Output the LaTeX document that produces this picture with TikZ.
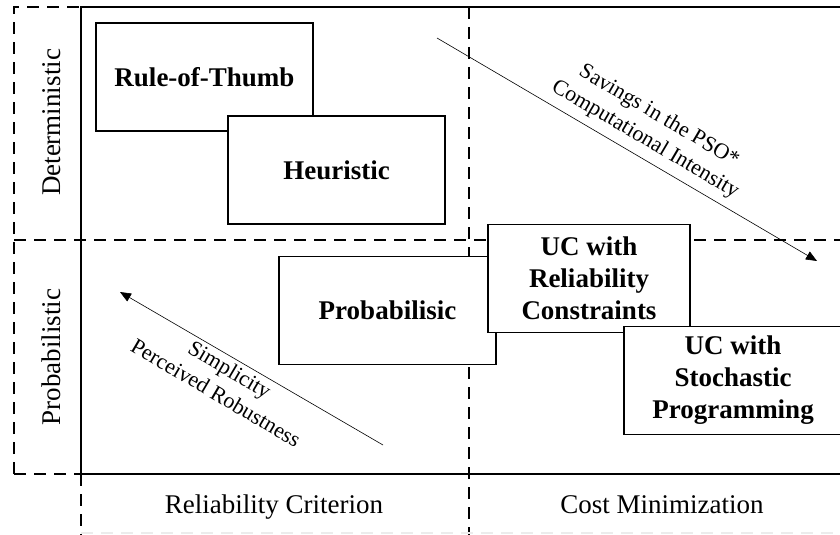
\documentclass[tikz,border=0pt]{standalone}
\usepackage{fontspec}
\setmainfont{Liberation Serif}
\usetikzlibrary{arrows.meta}

\begin{document}
\begin{tikzpicture}[
        x=1pt, y=-1pt, >={Triangle[length=11pt,width=9pt]},
        frame/.style={line width=1.2pt},
        grid/.style={line width=1.2pt, dash pattern=on 12pt off 8pt},
        method/.style={draw, line width=1.2pt, fill=white, inner sep=0pt,
            minimum width=217pt, minimum height=108pt, align=center,
            font=\fontsize{27}{32}\selectfont\bfseries},
        trend/.style={->, line width=0.6pt},
        axis label/.style={font=\fontsize{27}{32}\selectfont, anchor=base},
        trend label/.style={font=\fontsize{22}{27}\selectfont, align=center, rotate=-30.5},
        ]
        \useasboundingbox (0,0) rectangle (840,535);
        % quadrant grid
        \draw[grid] (14,474) -- (14,7) -- (81,7);
        \draw[grid] (14,474) -- (81,474);
        \draw[grid] (14,240) -- (840,240);
        \draw[grid] (469,7) -- (469,535);
        \draw[grid] (81,474) -- (81,535);
        \draw[grid, gray!15] (81,533) -- (840,533);
        \draw[frame] (840,7) -- (81,7) -- (81,474) -- (840,474);

        \node[axis label, rotate=90] (det)  at (60,122.5) {Deterministic};
        \node[axis label, rotate=90] (prb)  at (60,357)   {Probabilistic};
        \node[axis label]            (rel)  at (274,513)  {Reliability Criterion};
        \node[axis label]            (cost) at (662,513)  {Cost Minimization};

        % methods
        \node[method] (thumb) at (204.5,77)   {Rule-of-Thumb};
        \node[method] (heur)  at (336.5,170)  {Heuristic};
        \node[method] (prob)  at (387.5,310.5) {Probabilisic};
        \node[method, minimum width=202pt] (ucrel) at (589,278.5) {UC with\\Reliability\\Constraints};
        \node[method, minimum width=218pt] (ucsto) at (733,380.5) {UC with\\Stochastic\\Programming};

        % trends
        \coordinate (save start) at (437,38);
        \coordinate (save end)   at (817,261);
        \coordinate (simp start) at (383,445);
        \coordinate (simp end)   at (120,292);
        \draw[trend] (save start) -- (save end);
        \draw[trend] (simp start) -- (simp end);
        \node[trend label] (save) at (652,128) {Savings in the PSO*\\Computational Intensity};
        \node[trend label] (simp) at (223,381) {Simplicity\\Perceived Robustness};
\end{tikzpicture}
\end{document}
